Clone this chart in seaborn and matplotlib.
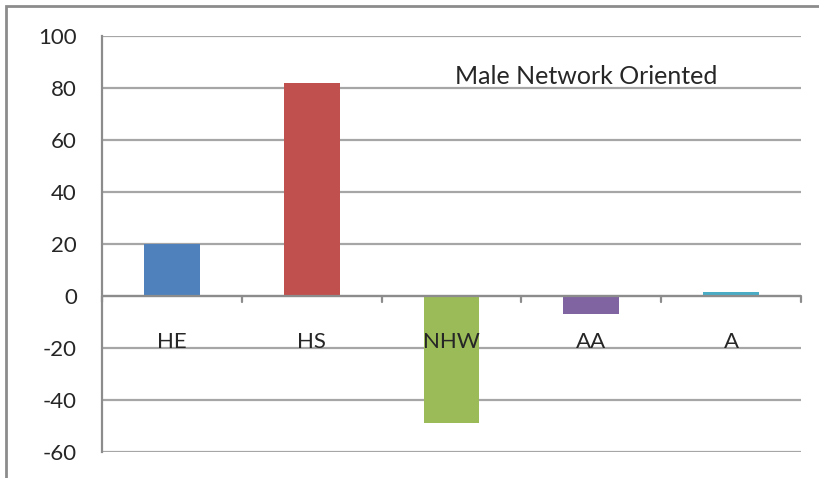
import numpy as np
import pandas as pd
import matplotlib
matplotlib.use("Agg")
import matplotlib.pyplot as plt
from matplotlib.patches import Rectangle
import seaborn as sns

# ── Data ────────────────────────────────────────────────────────────────────
CATEGORIES = ["HE", "HS", "NHW", "AA", "A"]
VALUES     = [20, 82, -49, -7, 1.5]
COLORS     = ["#4F81BD", "#C0504D", "#9BBB59", "#8064A2", "#4BACC6"]
TITLE      = "Male Network Oriented"
Y_TICKS    = [-60, -40, -20, 0, 20, 40, 60, 80, 100]

sns.set_style("white")
plt.rcParams["font.family"] = ["Lato", "DejaVu Sans"]

df = pd.DataFrame({"group": CATEGORIES, "value": VALUES})

fig = plt.figure(figsize=(8.2, 4.78), dpi=100)
ax = fig.add_axes([102 / 820, 1 - 452 / 478, 699 / 820, 416 / 478])

sns.barplot(data=df, x="group", y="value", hue="group", palette=COLORS,
            order=CATEGORIES, hue_order=CATEGORIES, width=0.4, dodge=False,
            legend=False, saturation=1, linewidth=0, ax=ax)

ax.set_ylim(-60, 100)
ax.set_xlim(-0.5, len(CATEGORIES) - 0.5)
ax.set_yticks(Y_TICKS)
ax.set_yticklabels([str(t) for t in Y_TICKS], fontsize=16)
ax.set_xlabel("")
ax.set_ylabel("")

# gridlines
for t in Y_TICKS:
    ax.axhline(t, color="#A6A6A6", lw=1.6, zorder=0)

# spines
for s in ["top", "right", "bottom"]:
    ax.spines[s].set_visible(False)
ax.spines["left"].set_color("#8C8C8C")
ax.spines["left"].set_linewidth(1.6)
ax.tick_params(axis="y", length=6, width=1.6, color="#8C8C8C", pad=12)

# x axis at zero with ticks at category boundaries
ax.set_xticks([])
ax.axhline(0, color="#8C8C8C", lw=1.6, zorder=3)
for b in np.arange(-0.5, len(CATEGORIES), 1.0):
    ax.plot([b, b], [0, -2.2], color="#8C8C8C", lw=1.6, zorder=3, clip_on=False)

for i, c in enumerate(CATEGORIES):
    ax.text(i, -17.5, c, ha="center", va="center", fontsize=16, zorder=4)

ax.text(2.96, 84.3, TITLE, ha="center", va="center", fontsize=18)

# outer chart border
fig.patches.append(Rectangle((6 / 820, -0.05), 1.0, 1.05 - 6 / 478,
                             transform=fig.transFigure, fill=False,
                             edgecolor="#8C8C8C", lw=2))

fig.savefig("out.png", dpi=100)
